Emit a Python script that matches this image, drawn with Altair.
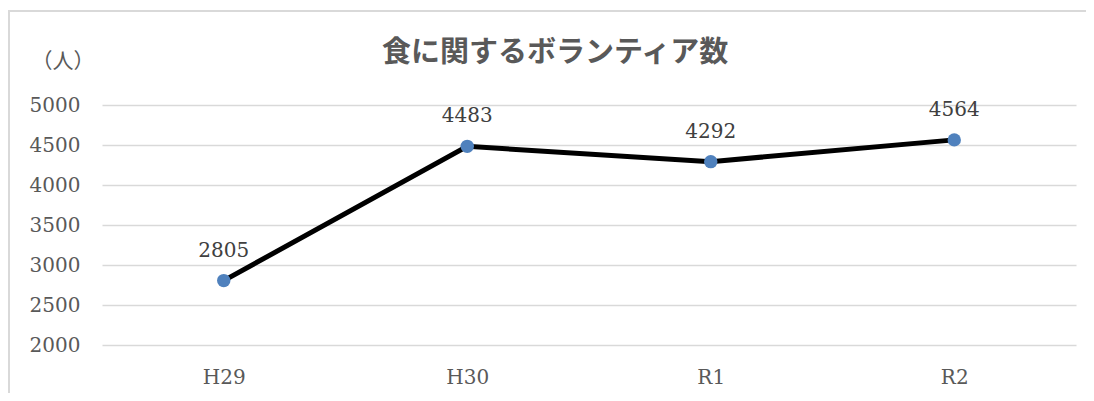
import altair as alt
import pandas as pd

categories = ["H29", "H30", "R1", "R2"]
values = [2805, 4483, 4292, 4564]
y_ticks = [2000, 2500, 3000, 3500, 4000, 4500, 5000]
title_text = "食に関するボランティア数"
unit_text = "（人）"

df = pd.DataFrame({"cat": categories, "val": values})
one = pd.DataFrame({"t": [title_text], "u": [unit_text]})

x_enc = alt.X("cat:N", sort=categories, scale=alt.Scale(paddingInner=1, paddingOuter=0.5),
              axis=alt.Axis(title=None, labelAngle=0, domain=False, ticks=False,
                            labelPadding=22, labelFont="DejaVu Serif", labelFontSize=20,
                            labelColor="#595959", grid=False))
y_enc = alt.Y("val:Q", scale=alt.Scale(domain=[2000, 5000], nice=False, zero=False),
              axis=alt.Axis(values=y_ticks, title=None, format="d",
                            domain=False, ticks=False, labelPadding=22,
                            labelFont="DejaVu Serif", labelFontSize=20, labelColor="#595959",
                            gridColor="#d9d9d9", gridWidth=1.5))

border = alt.Chart(one).mark_rect(fill=None, stroke="#d9d9d9", strokeWidth=2).encode(
    x=alt.value(-93), x2=alt.value(1200), y=alt.value(-94), y2=alt.value(500))

title = alt.Chart(one).mark_text(font="Noto Sans CJK JP", fontSize=29, fontWeight="bold",
                                 color="#595959", align="center", baseline="middle").encode(
    x=alt.value(453), y=alt.value(-52), text="t:N")
unit = alt.Chart(one).mark_text(font="Noto Sans CJK JP", fontSize=21, color="#595959",
                                align="center", baseline="middle").encode(
    x=alt.value(-39), y=alt.value(-43), text="u:N")

line = alt.Chart(df).mark_line(color="black", strokeWidth=5).encode(x=x_enc, y=y_enc)
pts = alt.Chart(df).mark_circle(color="#4f81bd", opacity=1, size=180).encode(x=x_enc, y=y_enc)
labels = alt.Chart(df).mark_text(font="DejaVu Serif", fontSize=20, color="#404040", dy=-30,
                                 baseline="middle").encode(x=x_enc, y=y_enc, text="val:Q")

chart = alt.layer(border, line, pts, labels, title, unit).properties(
    width=974, height=240,
    background="white",
    autosize=alt.AutoSizeParams(type="none"),
    padding={"left": 94, "top": 97, "right": 10, "bottom": 48},
).configure_view(stroke=None)

chart.save("out.html", embed_options={"renderer": "svg", "actions": False})
